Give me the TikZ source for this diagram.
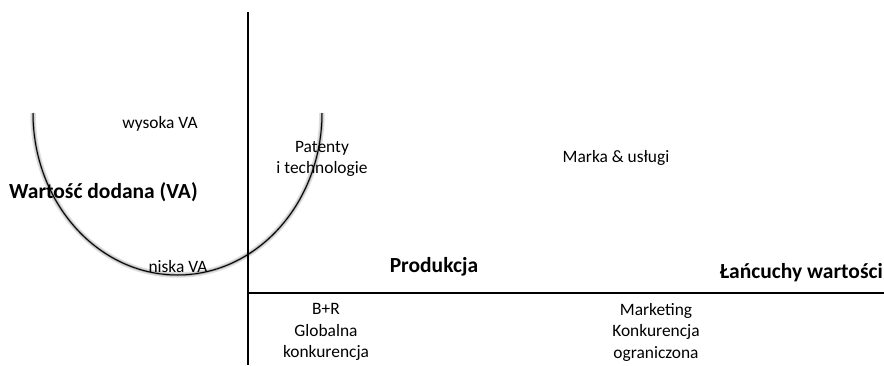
\documentclass[tikz,border=0pt]{standalone}
\usepackage{fontspec}
\setmainfont{Carlito}
\begin{document}
\begin{tikzpicture}[x=1pt,y=-1pt,
  lbl/.style={font=\fontsize{17.4}{21.5}\selectfont, align=center, inner sep=0pt},
  blbl/.style={font=\fontsize{21.5}{25}\selectfont\bfseries, inner sep=0pt},
  axisline/.style={line width=2pt, black}]
\useasboundingbox (0,0) rectangle (884,365);
% curve
\draw[line width=5.5pt, black!13] (33,113) arc[start angle=180, end angle=0, x radius=144.5, y radius=162];
\draw[line width=2.4pt, black!35] (33,113) arc[start angle=180, end angle=0, x radius=144.5, y radius=162];
\draw[line width=1pt, black] (33,113) arc[start angle=180, end angle=0, x radius=144.5, y radius=162];
% axes
\coordinate (vtop) at (248,12);
\coordinate (vbot) at (248,365);
\coordinate (hl) at (248,293);
\coordinate (hr) at (884,293);
\draw[axisline] (vtop) -- (vbot);
\draw[axisline] (hl) -- (hr);
% labels
\node[lbl] (wys) at (160,124) {wysoka VA};
\node[blbl, anchor=west] (wd) at (9,192) {Wartość dodana (VA)};
\node[lbl] (nis) at (178,267) {niska VA};
\node[lbl] (pat) at (322,159) {Patenty\\i technologie};
\node[lbl] (mark) at (616,158) {Marka \& usługi};
\node[blbl] (prod) at (434,267) {Produkcja};
\node[blbl, anchor=east] (lan) at (883,273) {Łańcuchy wartości};
\node[lbl] (br) at (326,332) {B+R\\Globalna\\konkurencja};
\node[lbl] (mk) at (656,332) {Marketing\\Konkurencja\\ograniczona};
\end{tikzpicture}
\end{document}
